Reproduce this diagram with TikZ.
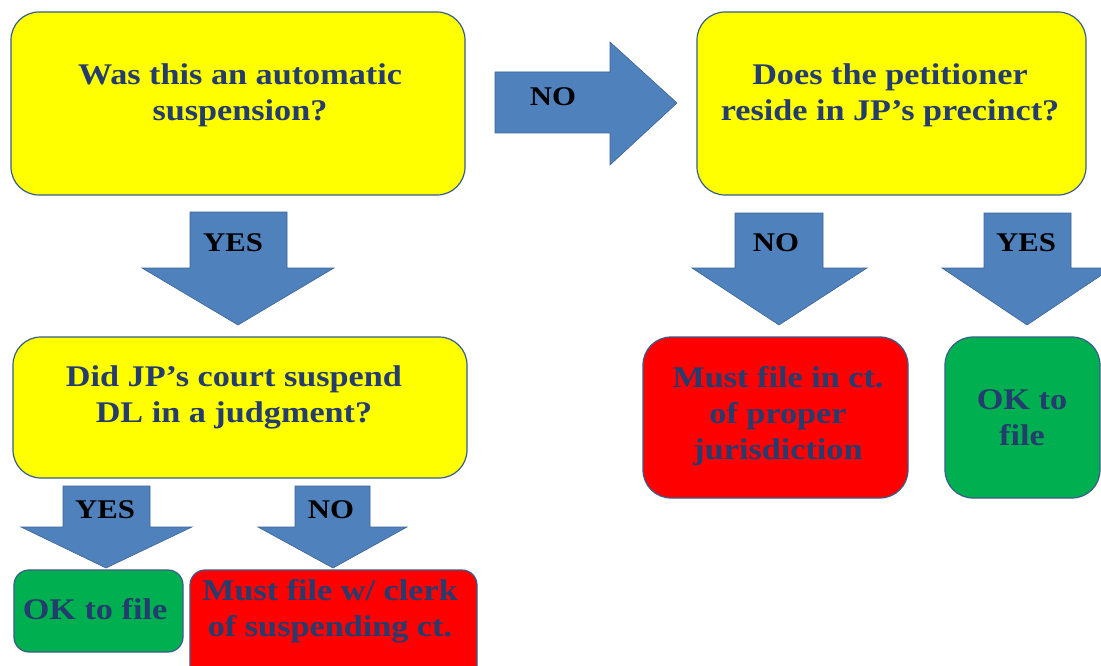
\documentclass[tikz,border=0pt]{standalone}
\usepackage{fontspec}
\setmainfont{Liberation Serif}[FakeStretch=1.14]
\definecolor{qyellow}{RGB}{255,255,0}
\definecolor{qred}{RGB}{255,0,0}
\definecolor{qgreen}{RGB}{0,176,80}
\definecolor{qblue}{RGB}{79,129,189}
\definecolor{qedge}{RGB}{56,93,138}
\definecolor{qtext}{RGB}{36,60,110}
\tikzset{
  box/.style={draw=qedge, line width=1.2pt, rounded corners=28pt, inner sep=0pt},
  smallbox/.style={box, rounded corners=15pt},
  txt/.style={font=\bfseries\fontsize{30}{36}\selectfont, text=qtext, align=center, inner sep=0pt},
  lbl/.style={font=\bfseries\fontsize{27}{30}\selectfont, text=black, inner sep=0pt},
  barrow/.style={fill=qblue, draw=qedge!80!qblue, line width=0.6pt, line join=miter},
}
\begin{document}
\begin{tikzpicture}[x=1pt,y=-1pt]
\useasboundingbox (0,0) rectangle (1101,666);
\clip (0,0) rectangle (1101,666);
\fill[white] (0,0) rectangle (1101,666);

% boxes
\node[box, fill=qyellow, minimum width=454pt, minimum height=183pt] (q1) at (238,103.5) {};
\node[txt] (q1t) at (240,95) {Was this an automatic\\suspension?};

\node[box, fill=qyellow, minimum width=389pt, minimum height=183pt] (q2) at (891.5,103.5) {};
\node[txt] (q2t) at (890,95) {Does the petitioner\\reside in JP's precinct?};

\node[box, fill=qyellow, minimum width=454pt, minimum height=141pt] (q3) at (240,407.5) {};
\node[txt] (q3t) at (234,397) {Did JP's court suspend\\DL in a judgment?};

\node[box, fill=qred, minimum width=265pt, minimum height=161pt] (r1) at (775.5,417.5) {};
\node[txt] (r1t) at (778,416) {Must file in ct.\\of proper\\jurisdiction};

\node[box, fill=qgreen, minimum width=155pt, minimum height=161pt] (g1) at (1022.5,417.5) {};
\node[txt] (g1t) at (1022,418) {OK to\\file};

\node[smallbox, fill=qgreen, minimum width=169pt, minimum height=82pt] (g2) at (98.5,611) {};
\node[txt] (g2t) at (95,609) {OK to file};

\node[smallbox, fill=qred, minimum width=287pt, minimum height=140pt] (r2) at (333.5,640) {};
\node[txt] (r2t) at (330,611) {Must file w/ clerk\\of suspending ct.};

% block arrows
\draw[barrow] (495,72) -- (610,72) -- (610,42) -- (677,103) -- (610,165) -- (610,133) -- (495,133) -- cycle;
\node[lbl] (a1) at (553,97) {NO};

\draw[barrow] (190,212) -- (287,212) -- (287,268) -- (334,268) -- (238,325) -- (142,268) -- (190,268) -- cycle;
\node[lbl] (a2) at (233,243) {YES};

\draw[barrow] (735,213) -- (823,213) -- (823,268) -- (867,268) -- (779,325) -- (692,268) -- (735,268) -- cycle;
\node[lbl] (a3) at (776,243) {NO};

\draw[barrow] (984,213) -- (1071,213) -- (1071,268) -- (1112,268) -- (1027,325) -- (942,268) -- (984,268) -- cycle;
\node[lbl] (a4) at (1026,243) {YES};

\draw[barrow] (63,486) -- (150,486) -- (150,527) -- (192,527) -- (106,568) -- (21,527) -- (63,527) -- cycle;
\node[lbl] (a5) at (105,510) {YES};

\draw[barrow] (295,486) -- (370,486) -- (370,527) -- (407,527) -- (333,568) -- (258,527) -- (295,527) -- cycle;
\node[lbl] (a6) at (331,510) {NO};
\end{tikzpicture}
\end{document}
